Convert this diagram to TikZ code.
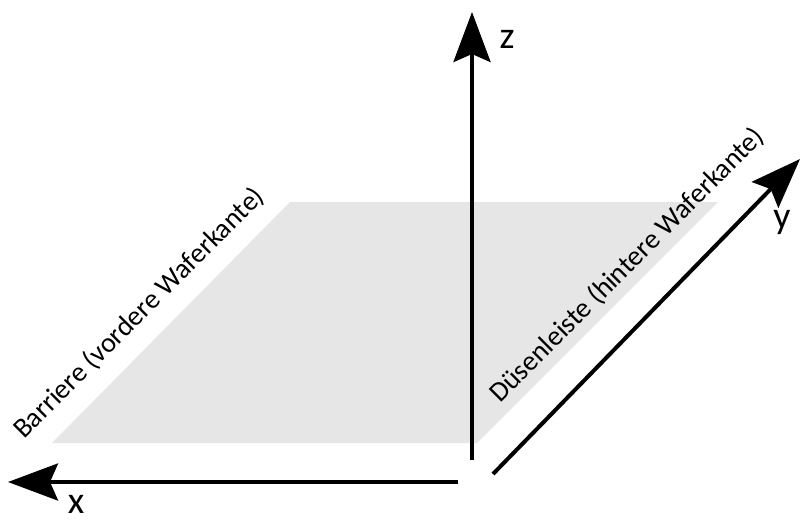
\documentclass[tikz,border=0pt]{standalone}
\usepackage{fontspec}
\setmainfont{Carlito}
\usetikzlibrary{arrows.meta, positioning, calc}
\definecolor{cplane}{HTML}{E6E6E6}
\tikzset{
  every picture/.style={line width=4pt},
  axis/.style={-{Stealth[length=50pt, width=37pt, inset=8pt]}, draw=black},
  axislabel/.style={font=\fontsize{38}{40}\selectfont, inner sep=0pt},
  edgelabel/.style={font=\fontsize{28}{30}\selectfont, inner sep=0pt, rotate=45, anchor=base},
}

\begin{document}
\begin{tikzpicture}[x=1pt, y=-1pt]
  \useasboundingbox (0,0) rectangle (803,520);
  % wafer plane
  \coordinate (p1) at (52,443);
  \coordinate (p2) at (477,443);
  \coordinate (p3) at (718,202);
  \coordinate (p4) at (290,202);
  \fill[cplane] (p1) -- (p2) -- (p3) -- (p4) -- cycle;
  % axes
  \coordinate (x0) at (458,482);
  \coordinate (x1) at (8,482);
  \coordinate (z0) at (472,460);
  \coordinate (z1) at (472,12);
  \coordinate (y0) at (493,474);
  \coordinate (y1) at (800,159);
  \draw[axis] (x0) -- (x1);
  \draw[axis] (z0) -- (z1);
  \draw[axis] (y0) -- (y1);
  \node[axislabel] (xlab) at (76,504) {x};
  \node[axislabel] (zlab) at (507,39) {z};
  \node[axislabel] (ylab) at (782,222) {y};
  % edge labels
  \node[edgelabel] (barr) at (145,319) {Barriere (vordere Waferkante)};
  \node[edgelabel] (duese) at (633,271) {Düsenleiste (hintere Waferkante)};
\end{tikzpicture}
\end{document}
